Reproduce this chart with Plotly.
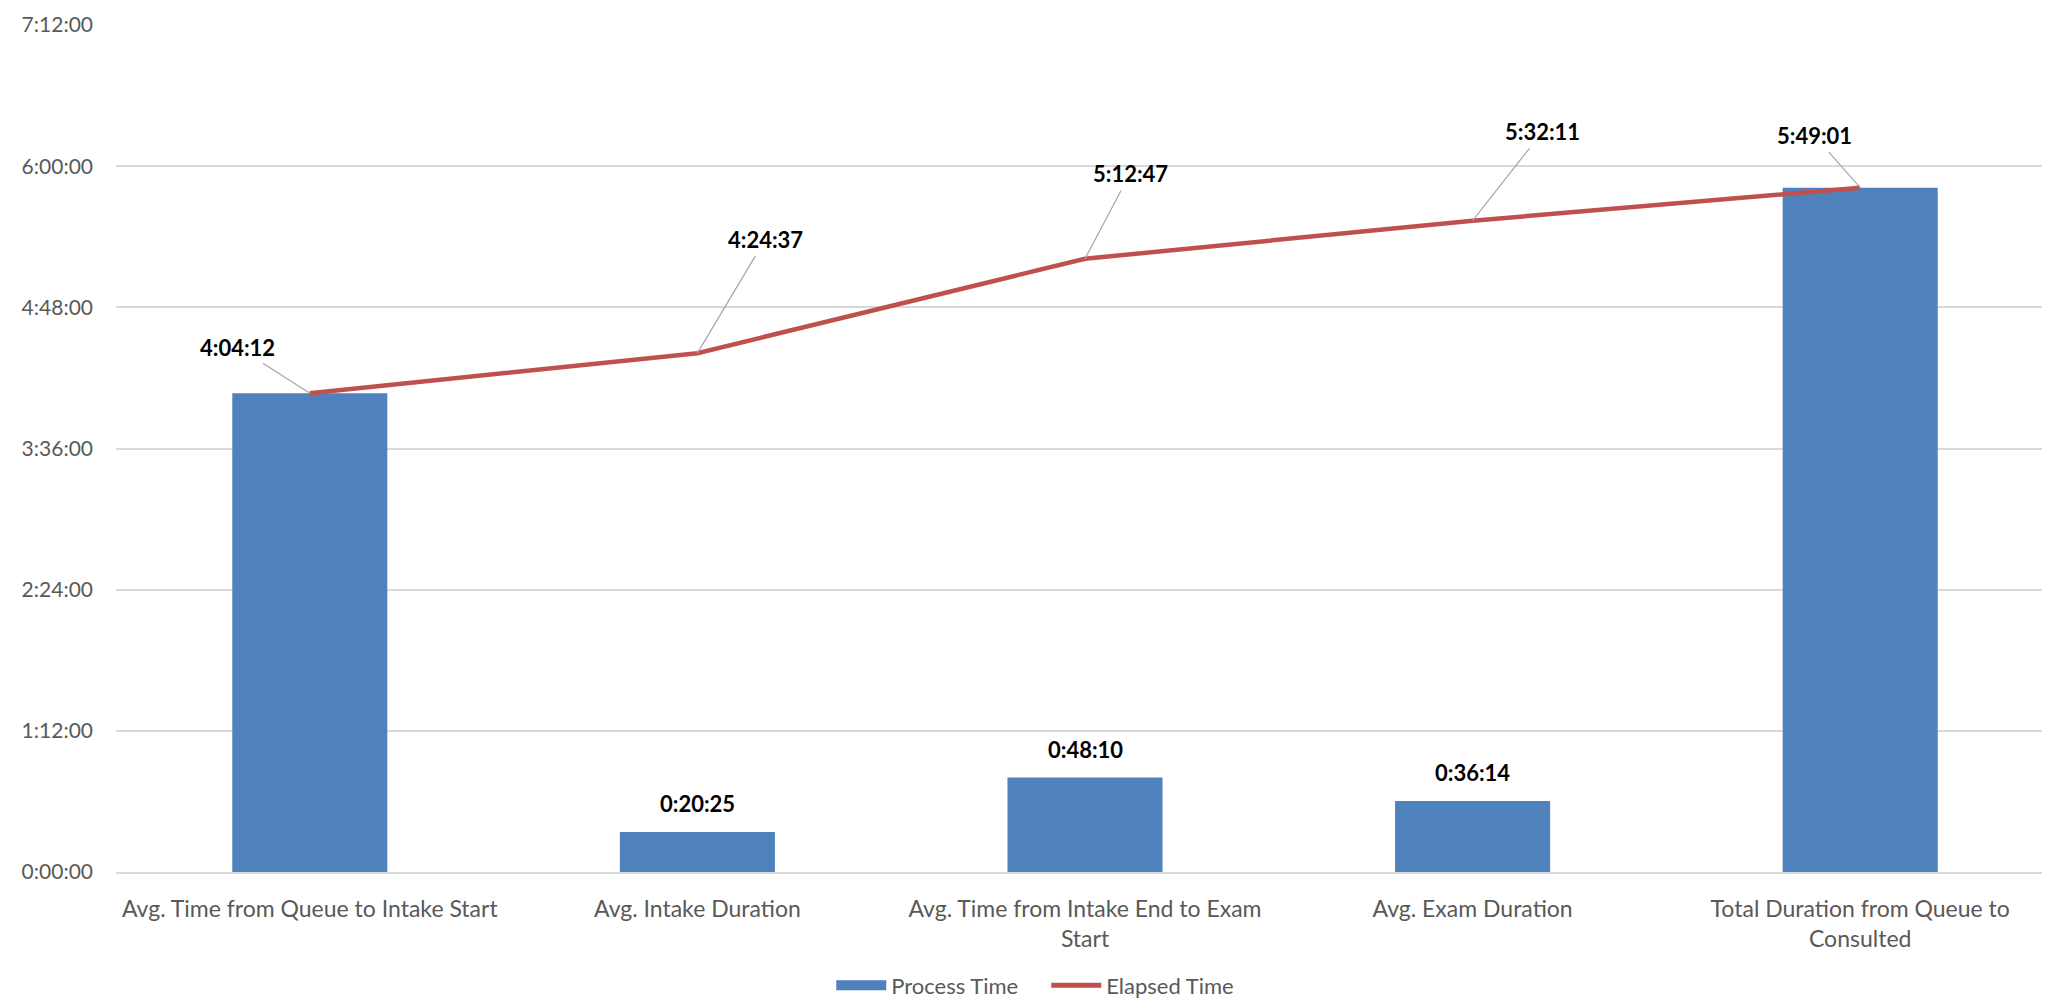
import plotly.graph_objects as go

categories = [
    "Avg. Time from Queue to Intake Start",
    "Avg. Intake Duration",
    "Avg. Time from Intake End to Exam<br>Start",
    "Avg. Exam Duration",
    "Total Duration from Queue to<br>Consulted",
]
process_time = ["4:04:12", "0:20:25", "0:48:10", "0:36:14", "5:49:01"]
elapsed_time = ["4:04:12", "4:24:37", "5:12:47", "5:32:11", "5:49:01"]
bar_label_visible = [False, True, True, True, False]
y_tick_labels = ["0:00:00", "1:12:00", "2:24:00", "3:36:00", "4:48:00", "6:00:00", "7:12:00"]

# label placement offsets (pixels) for the elapsed-time labels
line_label_offsets = [(-72, -46), (68, -114), (45, -85), (70, -89), (-46, -52)]


def to_sec(s):
    h, m, sec = (int(p) for p in s.split(":"))
    return h * 3600 + m * 60 + sec


proc_s = [to_sec(v) for v in process_time]
elap_s = [to_sec(v) for v in elapsed_time]
ytick_s = [to_sec(v) for v in y_tick_labels]

FONT = "Lato"
AX_COLOR = "#595959"
BLUE = "#4F81BD"
RED = "#C0504D"

fig = go.Figure()
fig.add_trace(go.Bar(
    x=categories, y=proc_s, name="Process Time",
    marker=dict(color=BLUE, line=dict(width=0)),
    hoverinfo="skip", showlegend=False,
))
fig.add_trace(go.Scatter(
    x=categories, y=elap_s, name="Elapsed Time", mode="lines",
    line=dict(color=RED, width=4.5),
    hoverinfo="skip", showlegend=False,
))
# legend entries (wide swatch like the original)
fig.add_trace(go.Scatter(
    x=[None], y=[None], name="Process Time", mode="lines",
    line=dict(color=BLUE, width=14), hoverinfo="skip",
))
fig.add_trace(go.Scatter(
    x=[None], y=[None], name="Elapsed Time", mode="lines",
    line=dict(color=RED, width=5), hoverinfo="skip",
))

annotations = []
for c, v, txt, show in zip(categories, proc_s, process_time, bar_label_visible):
    if show:
        annotations.append(dict(
            x=c, y=v, xref="x", yref="y", text="<b>%s</b>" % txt,
            showarrow=False, yanchor="bottom", yshift=13,
            font=dict(family=FONT, size=22, color="#000000"),
        ))
for c, v, txt, (ax, ay) in zip(categories, elap_s, elapsed_time, line_label_offsets):
    annotations.append(dict(
        x=c, y=v, xref="x", yref="y", text="<b>%s</b>" % txt,
        showarrow=True, arrowhead=0, arrowwidth=1.2, arrowcolor="#A6A6A6",
        ax=ax, ay=ay, standoff=0, startstandoff=2,
        font=dict(family=FONT, size=22, color="#000000"),
    ))

fig.update_layout(
    width=2050, height=1002,
    margin=dict(l=108, r=4, t=17, b=127),
    paper_bgcolor="white", plot_bgcolor="white",
    bargap=0.6,
    font=dict(family=FONT, size=21, color=AX_COLOR),
    showlegend=True,
    legend=dict(
        orientation="h", x=0.48, xanchor="center", y=-0.134, yanchor="middle",
        font=dict(family=FONT, size=22, color=AX_COLOR),
        itemwidth=50, traceorder="normal",
        entrywidth=150, entrywidthmode="pixels",
    ),
    annotations=annotations,
    xaxis=dict(
        showgrid=False, showline=True, linecolor="#D9D9D9", linewidth=1.5,
        ticks="", tickfont=dict(family=FONT, size=23, color=AX_COLOR),
        ticklabelstandoff=16,
        fixedrange=True,
    ),
    yaxis=dict(
        range=[0, ytick_s[-1]],
        tickvals=ytick_s, ticktext=y_tick_labels,
        showgrid=True, gridcolor="#D9D9D9", gridwidth=1.5,
        zeroline=False, showline=False, ticks="",
        ticklabelstandoff=22,
        tickfont=dict(family=FONT, size=21, color=AX_COLOR),
        fixedrange=True,
    ),
)

fig.write_html("out.html", config={"displayModeBar": False})
